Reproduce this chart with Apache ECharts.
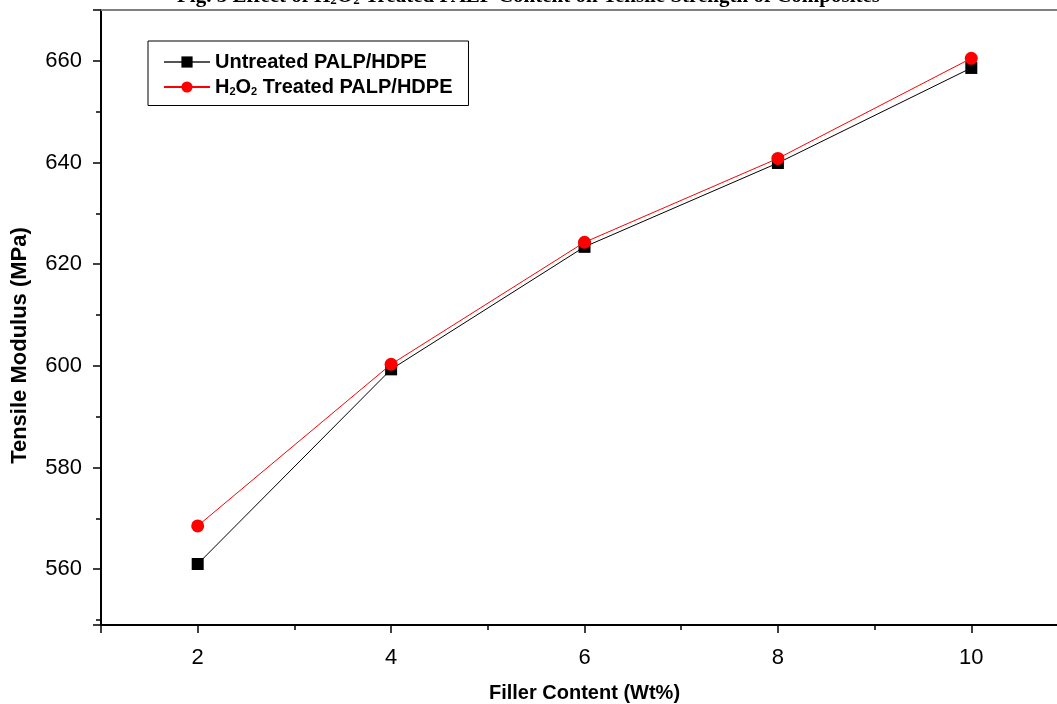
<!DOCTYPE html>
<html>
<head>
<meta charset="utf-8">
<script src="https://cdn.jsdelivr.net/npm/echarts@6/dist/echarts.min.js"></script>
<style>html,body{margin:0;padding:0;background:#fff}#c{width:1057px;height:704px}</style>
</head>
<body>
<div id="c"></div>
<script>
const fillerContent = [2, 4, 6, 8, 10];
const untreated = [561.0, 599.3, 623.4, 639.9, 658.6];
const treated = [568.5, 600.3, 624.3, 640.8, 660.5];
const seriesNames = ['Untreated PALP/HDPE', 'H2O2 Treated PALP/HDPE'];

const chart = echarts.init(document.getElementById('c'));
const sansBold = {fontFamily: 'Liberation Sans', fontWeight: 'bold', color: '#000'};
chart.setOption({
  animation: false,
  backgroundColor: '#fff',
  title: {
    text: '{t|Fig. 5 Effect of H}{s|2}{t|O}{s|2}{t| Treated PALP Content on Tensile Strength of Composites}',
    left: 'center',
    top: -19,
    textStyle: {
      rich: {
        t: {fontFamily: 'Liberation Serif', fontWeight: 'bold', fontSize: 21, color: '#000'},
        s: {fontFamily: 'Liberation Serif', fontWeight: 'bold', fontSize: 13, color: '#000', padding: [8, 0, 0, 0]}
      }
    }
  },
  grid: {left: 101, top: 10, width: 967, bottom: 79, containLabel: false, outerBoundsMode: 'none'},
  legend: {
    orient: 'vertical',
    left: 148,
    top: 41,
    padding: [11, 16, 8, 15],
    itemGap: 5,
    itemWidth: 46,
    itemHeight: 14,
    borderColor: '#000',
    borderWidth: 1,
    data: [
      {name: seriesNames[0], lineStyle: {color: '#555'}},
      {name: seriesNames[1]}
    ],
    formatter: function (n) {
      if (n.indexOf('H2O2') === 0) return '{b|H}{s|2}{b|O}{s|2}{b|' + n.slice(4) + '}';
      return '{b|' + n + '}';
    },
    textStyle: {
      rich: {
        b: Object.assign({fontSize: 20}, sansBold),
        s: Object.assign({fontSize: 11, padding: [10, 0, 0, 0]}, sansBold)
      }
    }
  },
  xAxis: [{
    type: 'value',
    min: 1, max: 11,
    minInterval: 2, maxInterval: 2,
    name: 'Filler Content (Wt%)',
    nameLocation: 'middle',
    nameGap: 58,
    nameTextStyle: Object.assign({fontSize: 20}, sansBold),
    axisLine: {show: true, onZero: false, lineStyle: {color: '#000', width: 2}},
    axisTick: {show: true, inside: false, length: 8, lineStyle: {color: '#000', width: 1.5}},
    minorTick: {show: true, splitNumber: 2, length: 5, lineStyle: {color: '#000', width: 1.5}},
    axisLabel: {fontFamily: 'Liberation Sans', fontSize: 22, color: '#000', margin: 22, showMinLabel: false, showMaxLabel: false},
    splitLine: {show: false}
  }, {
    type: 'value',
    position: 'top',
    min: 1, max: 11,
    axisLine: {show: true, onZero: false, lineStyle: {color: '#808080', width: 2}},
    axisTick: {show: false},
    axisLabel: {show: false},
    splitLine: {show: false}
  }],
  yAxis: {
    type: 'value',
    min: 549, max: 670,
    minInterval: 20, maxInterval: 20,
    name: 'Tensile Modulus (MPa)',
    nameLocation: 'middle',
    nameGap: 70,
    nameTextStyle: Object.assign({fontSize: 22, padding: [0, 56, 0, 0]}, sansBold),
    axisLine: {show: true, onZero: false, lineStyle: {color: '#000', width: 2}},
    axisTick: {show: true, inside: false, length: 8, lineStyle: {color: '#000', width: 1.5}},
    minorTick: {show: true, splitNumber: 2, length: 5, lineStyle: {color: '#000', width: 1.5}},
    axisLabel: {fontFamily: 'Liberation Sans', fontSize: 22, color: '#000', margin: 19, showMinLabel: false, showMaxLabel: false},
    splitLine: {show: false}
  },
  series: [{
    name: seriesNames[0],
    type: 'line',
    data: fillerContent.map((x, i) => [x, untreated[i]]),
    symbol: 'rect',
    symbolSize: 12,
    showAllSymbol: true,
    lineStyle: {color: '#000', width: 1},
    itemStyle: {color: '#000'},
    z: 2
  }, {
    name: seriesNames[1],
    type: 'line',
    data: fillerContent.map((x, i) => [x, treated[i]]),
    symbol: 'circle',
    symbolSize: 13,
    showAllSymbol: true,
    lineStyle: {color: '#ff0000', width: 1},
    itemStyle: {color: '#ff0000'},
    z: 3
  }]
});
</script>
</body>
</html>
